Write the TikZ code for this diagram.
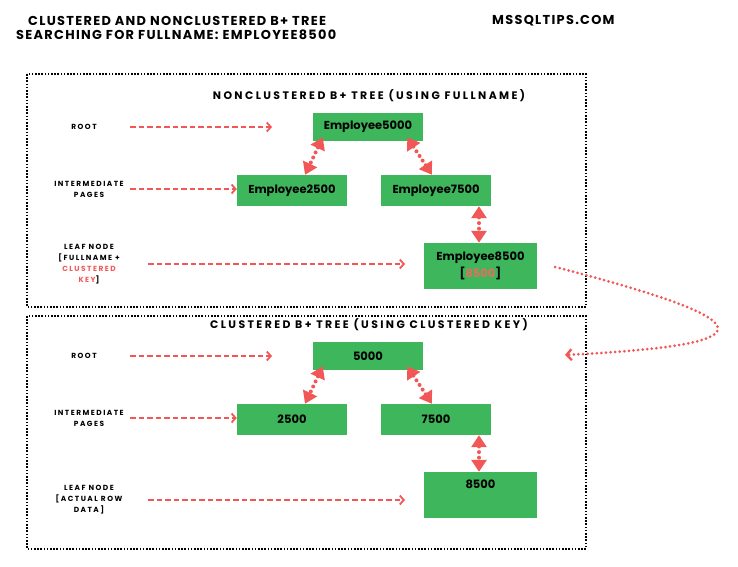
\documentclass[tikz,border=0pt]{standalone}
\usepackage{fontspec}
\usetikzlibrary{arrows.meta,calc}
\setmainfont{Poppins}
\newfontfamily\titlefont{Poppins}[LetterSpace=10]
\newfontfamily\headfont{Poppins}[LetterSpace=22]
\newfontfamily\lblfont{Poppins}[LetterSpace=20]
\definecolor{boxgreen}{HTML}{3DB65C}
\definecolor{arrred}{HTML}{F25757}
\definecolor{keyred}{HTML}{E2705C}
\tikzset{
  pagebox/.style={fill=boxgreen, draw=none, minimum width=110pt, minimum height=31pt,
    inner sep=0pt, font=\fontsize{11.5}{17}\selectfont\bfseries, align=center},
  lvl/.style={font=\lblfont\fontsize{7.4}{11}\selectfont\bfseries, align=center, inner sep=0pt},
  head/.style={font=\headfont\fontsize{10.9}{12}\selectfont\bfseries, inner sep=0pt},
  levelarrow/.style={draw=arrred, line width=1.8pt, dash pattern=on 5.5pt off 3pt,
    -{Straight Barb[length=4pt,width=9pt,line width=1.8pt]}},
  treelink/.style={draw=arrred, line width=4pt, dash pattern=on 0pt off 5.6pt, line cap=round,
    {Triangle[length=12pt,width=15pt,line cap=butt]}-{Triangle[length=12pt,width=15pt,line cap=butt]}},
  lookup/.style={draw=arrred, line width=3pt, dash pattern=on 0pt off 4.6pt, line cap=round,
    -{Straight Barb[length=5pt,width=11pt,line width=2.4pt]}},
  frame/.style={draw=black, line width=2pt, dash pattern=on 1.6pt off 1.6pt},
}
\begin{document}
\begin{tikzpicture}[x=1pt,y=-1pt]
\useasboundingbox (0,0) rectangle (738,566);

% page titles
\node[anchor=west, font=\titlefont\fontsize{12.9}{14}\selectfont\bfseries, align=left, inner sep=0pt] (title) at (16,28)
  {\hspace*{12pt}CLUSTERED AND NONCLUSTERED B+ TREE\\SEARCHING FOR FULLNAME: EMPLOYEE8500};
\node[anchor=west, font=\titlefont\fontsize{12.9}{14}\selectfont\bfseries, inner sep=0pt] (site) at (492,21) {MSSQLTIPS.COM};

% the two index frames
\draw[frame] (27,74) rectangle (586,307);
\draw[frame] (27,316) rectangle (586,549);

% ---------------- nonclustered index ----------------
\node[head] (nchead) at (369,96) {NONCLUSTERED B+ TREE (USING FULLNAME)};

\node[pagebox, minimum height=28pt] (n5000) at (368,127) {Employee5000};
\node[pagebox] (n2500) at (292,190.5) {Employee2500};
\node[pagebox] (n7500) at (436,190.5) {Employee7500};
\node[pagebox, minimum width=113pt, minimum height=46pt] (n8500) at (480.5,266)
  {Employee8500\\{[}\textcolor{keyred}{8500}{]}};

\node[lvl] (nroot) at (84,127) {ROOT};
\node[lvl] (nmid) at (89,189) {INTERMEDIATE\\PAGES};
\node[lvl] (nleaf) at (89,264.5) {LEAF NODE\\{[}FULLNAME +\\\textcolor{arrred}{CLUSTERED}\\\textcolor{arrred}{KEY}{]}};

\coordinate (nrootA) at (130,127);
\coordinate (nrootB) at (272,127);
\coordinate (nmidA) at (130,189);
\coordinate (nleafA) at (148,264);
\coordinate (nleafB) at (405,264);
\draw[levelarrow] (nrootA) -- (nrootB);
\draw[levelarrow] (nmidA) -- (n2500.west |- nmidA);
\draw[levelarrow] (nleafA) -- (nleafB);

\draw[treelink] ($(n5000.south west)+(10,-4)$) -- ($(n2500.north)+(13,0)$);
\draw[treelink] ($(n5000.south east)+(-16,-4)$) -- ($(n7500.north)+(-4,0)$);
\draw[treelink] ($(n7500.south)+(43,0)$) -- ($(n8500.north)+(-1.5,0)$);

% ---------------- clustered index ----------------
\node[head] (chead) at (369,325) {CLUSTERED B+ TREE (USING CLUSTERED KEY)};

\node[pagebox, minimum height=28pt] (c5000) at (368,356) {5000};
\node[pagebox] (c2500) at (292,419.5) {2500};
\node[pagebox] (c7500) at (436,419.5) {7500};
\node[pagebox, minimum width=113pt, minimum height=46pt] (c8500) at (480.5,495) {8500\\\strut};

\node[lvl] (croot) at (84,356) {ROOT};
\node[lvl] (cmid) at (89,418) {INTERMEDIATE\\PAGES};
\node[lvl] (cleaf) at (89,500) {LEAF NODE\\{[}ACTUAL ROW\\DATA{]}};

\coordinate (crootA) at (130,356);
\coordinate (crootB) at (272,356);
\coordinate (cmidA) at (130,418);
\coordinate (cleafA) at (148,500);
\coordinate (cleafB) at (405,500);
\draw[levelarrow] (crootA) -- (crootB);
\draw[levelarrow] (cmidA) -- (c2500.west |- cmidA);
\draw[levelarrow] (cleafA) -- (cleafB);

\draw[treelink] ($(c5000.south west)+(10,-4)$) -- ($(c2500.north)+(13,0)$);
\draw[treelink] ($(c5000.south east)+(-16,-4)$) -- ($(c7500.north)+(-4,0)$);
\draw[treelink] ($(c7500.south)+(43,0)$) -- ($(c8500.north)+(-1.5,0)$);

% key lookup from the nonclustered leaf into the clustered tree
\coordinate (lookA) at ($(n8500.east)+(18,1)$);
\coordinate (lookB) at (565,355);
\draw[lookup] (lookA) .. controls (780,325) and (760,345) .. (lookB);
\end{tikzpicture}
\end{document}
